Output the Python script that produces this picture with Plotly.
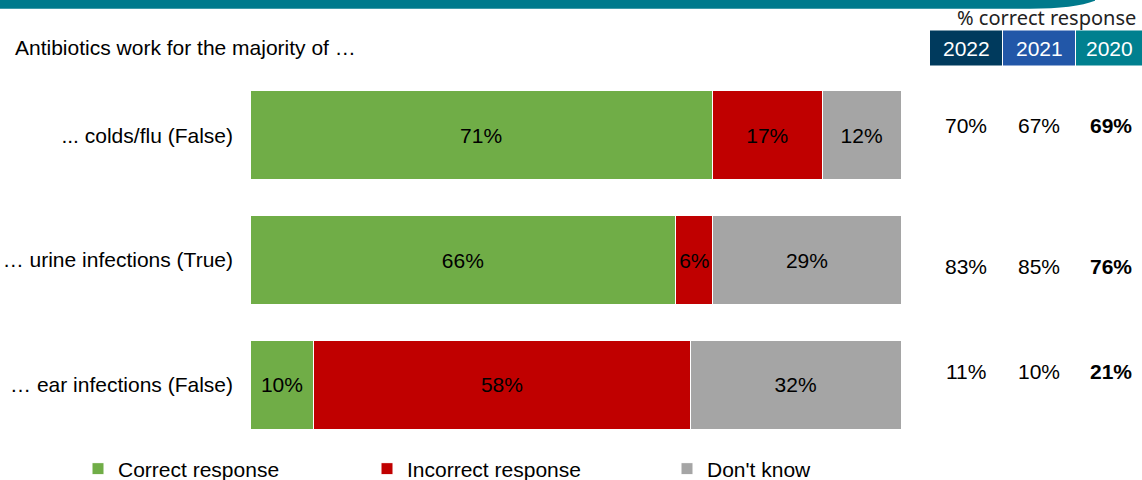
import plotly.graph_objects as go

categories = ["... colds/flu (False)", "… urine infections (True)", "… ear infections (False)"]
correct = [71.0, 65.4, 9.8]
incorrect = [16.9, 5.7, 57.8]
dont_know = [12.1, 28.9, 32.4]
correct_lbl = ["71%", "66%", "10%"]
incorrect_lbl = ["17%", "6%", "58%"]
dont_know_lbl = ["12%", "29%", "32%"]
years = ["2022", "2021", "2020"]
year_vals = {
    "2022": ["70%", "83%", "11%"],
    "2021": ["67%", "85%", "10%"],
    "2020": ["69%", "76%", "21%"],
}
title_text = "Antibiotics work for the majority of …"

W, H = 1142, 480
L, R = 250, 901
T, B = 72.5, 447.5
FONT = "Liberation Sans, Arial, sans-serif"
FS = 21

def px(x):
    return (x - L) / (R - L)

def py(y):
    return (B - y) / (B - T)

fig = go.Figure()
series = [
    ("Correct response", correct, correct_lbl, "#70AD47", "legend", 78),
    ("Incorrect response", incorrect, incorrect_lbl, "#C00000", "legend2", 367),
    ("Don't know", dont_know, dont_know_lbl, "#A5A5A5", "legend3", 667),
]
legends = {}
for name, vals, lbl, col, leg, lx in series:
    fig.add_trace(go.Bar(
        y=categories, x=vals, name=name, orientation="h",
        marker=dict(color=col, line=dict(color="white", width=1)),
        text=lbl, textposition="inside", insidetextanchor="middle",
        textfont=dict(color="black", size=FS, family=FONT),
        width=0.712, hoverinfo="skip", legend=leg,
    ))
    legends[leg] = dict(orientation="h", xref="container", yref="container",
                        x=lx / W, y=1 - 469 / H, xanchor="left", yanchor="middle",
                        itemwidth=30, font=dict(size=FS, family=FONT, color="black"),
                        bgcolor="rgba(0,0,0,0)")

shapes = []
# top teal band
shapes.append(dict(type="path", xref="paper", yref="paper",
                   path=f"M {px(-5)},{py(-5)} L {px(1095)},{py(-5)} L {px(1095)},{py(0)} "
                        f"Q {px(1075)},{py(8)} {px(1030)},{py(8)} L {px(-5)},{py(8)} Z",
                   fillcolor="#007A8C", line=dict(width=0), layer="above"))
box_cols = ["#003A5D", "#2257A8", "#00808F"]
box_x = [(930, 1002), (1003, 1075), (1076, 1142)]
annotations = []
for yr, col, (x0, x1) in zip(years, box_cols, box_x):
    shapes.append(dict(type="rect", xref="paper", yref="paper",
                       x0=px(x0), x1=px(x1), y0=py(65), y1=py(30),
                       fillcolor=col, line=dict(width=0)))
    annotations.append(dict(xref="paper", yref="paper", x=px((x0 + x1) / 2), y=py(47.5),
                            text=yr, showarrow=False, xanchor="center", yanchor="middle",
                            font=dict(color="white", size=FS, family=FONT)))

annotations.append(dict(xref="paper", yref="paper", x=px(1138), y=py(17),
                        text="% correct response", showarrow=False, xanchor="right", yanchor="middle",
                        font=dict(color="#222222", size=20, family="Noto Sans, sans-serif")))
annotations.append(dict(xref="paper", yref="paper", x=px(13), y=py(47),
                        text=title_text, showarrow=False, xanchor="left", yanchor="middle",
                        font=dict(color="black", size=FS, family=FONT)))

col_x = [966, 1039, 1111]
row_y = [125, 267, 372]
for yr, cx in zip(years, col_x):
    for v, ry in zip(year_vals[yr], row_y):
        txt = f"<b>{v}</b>" if yr == "2020" else v
        annotations.append(dict(xref="paper", yref="paper", x=px(cx), y=py(ry),
                                text=txt, showarrow=False, xanchor="center", yanchor="middle",
                                font=dict(color="black", size=FS, family=FONT)))

fig.update_layout(
    width=W, height=H, barmode="stack", bargap=0.288,
    margin=dict(l=L, r=W - R, t=T, b=H - B, pad=0, autoexpand=False),
    paper_bgcolor="white", plot_bgcolor="white",
    shapes=shapes, annotations=annotations,
    showlegend=True,
    uniformtext=dict(minsize=FS, mode="show"),
    xaxis=dict(range=[0, 100], visible=False, fixedrange=True),
    yaxis=dict(categoryorder="array", categoryarray=categories, autorange="reversed",
               showgrid=False, zeroline=False, showline=False, ticks="", ticklabelstandoff=16,
               tickfont=dict(size=FS, family=FONT, color="black"), fixedrange=True),
    **legends,
)
fig.write_html("out.html", config={"displayModeBar": False},
               post_script="document.body.style.margin='0';")
